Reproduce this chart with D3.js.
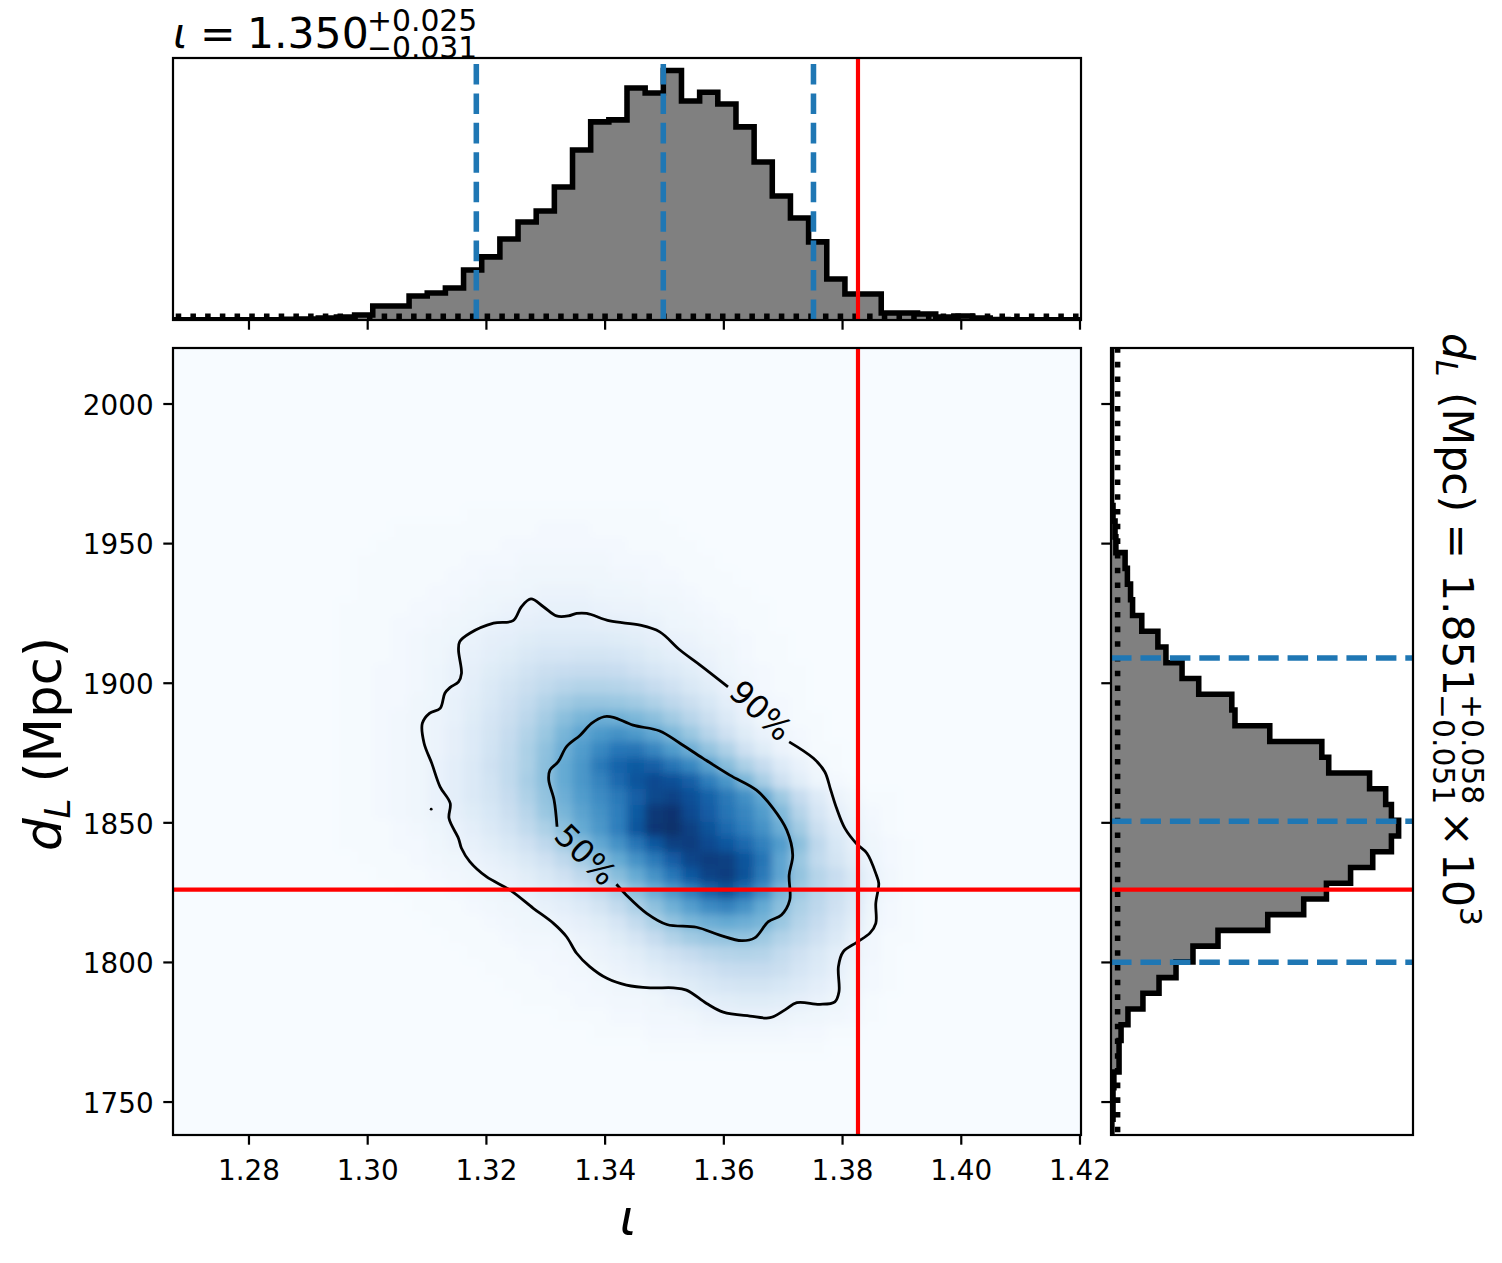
<!DOCTYPE html>
<html>
<head>
<meta charset="utf-8">
<script src="https://cdn.jsdelivr.net/npm/d3@7"></script>
<style>
  body { margin: 0; background: #fff; }
  text { font-family: "DejaVu Sans"; fill: #000; }
</style>
</head>
<body>
<script>
// Axis limits and ticks
const iotaLim = [1.2672, 1.42017];
const distLim = [1738.2, 2020.06];
const iotaTicks = [1.28, 1.30, 1.32, 1.34, 1.36, 1.38, 1.40, 1.42];
const distTicks = [1750, 1800, 1850, 1900, 1950, 2000];

// Marginal histograms, 50 bins, peak = 100
const iotaHist = [.1,.1,.1,.1,.1,.1,.3,.4,.8,1.2,2,5.6,5.6,9.6,10.8,12.8,20,25.3,32.5,39.3,43.7,53.3,68.1,79.4,80.2,93,91,100,87.8,91.3,86.6,77.4,63.3,49.7,40.9,31.3,16.4,10.4,10.4,2.8,2.8,2.4,1.2,1.6,.8,.2,.1,.1,.1,.1];
// listed from the top bin down
const distHist = [.2,.2,.2,.2,.2,.2,.2,.2,.2,.2,.7,1.4,1.7,4.9,5.7,6.8,7.5,10.7,16.3,19.1,24.7,30.5,42,43.1,55.2,73.3,75.7,89.9,95.5,97.5,100,97.5,91,83.3,74.9,67,54.5,37.2,28.5,22.6,16.7,11.1,5.9,3.5,2.8,2.8,1,.7,.7,.3];

// Flat prior levels, dashed quantiles and true values
const iotaPrior = 1.5;
const distPrior = 2.3;
const iotaQuantiles = [1.3183, 1.3498, 1.3751];
const distQuantiles = [1800.1, 1850.6, 1909.0];
const iotaTrue = 1.3826;
const distTrue = 1826.1;

// Density, rows top down from row 10, columns from column 8 (50 x 50 grid)
const heatRowStart = 10;
const heatColStart = 8;
const heatRows = [
  [0,0,0,0,0,0,0,0,1,1,1,1,1,1,1,1,1,1,1],
  [0,0,0,0,1,1,1,1,1,1,1,1,2,2,2,1,1,1,1,1],
  [0,0,0,1,1,1,1,1,1,1,2,2,2,2,2,2,2,1,1,1,1],
  [0,0,1,1,1,1,1,1,2,2,2,3,3,3,3,3,2,2,2,1,1,1],
  [0,0,1,1,1,1,1,2,2,3,3,4,4,4,4,4,3,3,2,2,1,1,1],
  [0,0,1,1,1,1,2,2,3,4,4,5,6,6,6,5,5,4,3,3,2,1,1,1],
  [0,1,1,1,1,2,2,3,4,5,6,7,8,8,8,7,6,6,5,4,3,2,1,1,1],
  [0,1,1,1,2,2,3,4,5,7,8,9,10,10,10,9,9,8,7,5,4,3,2,1,1],
  [0,1,1,1,2,3,4,5,7,9,10,12,13,13,13,13,12,11,9,7,6,4,3,2,1,1],
  [0,1,1,1,2,3,4,6,8,10,12,15,17,17,18,18,17,15,12,10,8,6,4,2,1,1],
  [0,1,1,2,2,3,5,7,9,12,15,19,22,23,24,24,23,20,17,14,11,8,5,3,2,1,1],
  [0,1,1,2,2,3,5,7,10,14,18,22,26,29,31,31,30,28,24,20,15,11,7,4,2,1,1],
  [0,1,1,2,2,4,5,8,11,15,20,25,31,36,39,39,38,36,32,27,22,16,10,6,3,2,1],
  [0,1,1,2,3,4,6,8,12,17,22,28,35,42,47,50,49,46,42,36,29,22,14,8,4,2,1,1],
  [0,1,1,2,3,4,6,9,13,18,24,31,38,47,54,59,62,59,53,46,38,29,20,12,7,4,2,1],
  [0,1,1,2,3,4,6,9,13,19,25,33,41,50,58,66,73,74,67,58,50,40,32,20,12,6,3,1,1],
  [0,1,1,2,3,4,7,10,14,20,26,33,42,52,60,72,80,84,82,74,66,55,43,33,24,13,7,3,1],
  [0,1,1,2,3,4,7,10,14,19,26,34,42,52,60,68,78,86,90,88,82,70,60,47,34,21,11,5,2,1],
  [0,1,1,2,3,4,7,10,14,18,24,32,40,50,58,65,72,82,91,93,88,81,72,63,53,37,24,13,6,3,1,1],
  [0,1,1,2,3,4,6,9,12,16,22,29,38,47,55,62,70,84,97,99,90,83,74,67,58,45,30,17,9,5,2,1],
  [0,1,1,1,2,3,5,7,10,14,19,26,33,42,52,60,70,86,98,100,94,87,78,70,62,50,36,22,13,7,3,1],
  [0,1,1,1,2,2,4,6,8,11,15,20,27,35,44,53,62,74,85,94,95,90,85,78,69,58,42,27,16,9,4,2,1],
  [0,0,1,1,1,2,3,4,6,8,11,15,20,27,35,43,52,62,72,83,92,95,94,86,74,54,38,26,18,11,5,2,1],
  [0,0,0,1,1,1,2,3,4,6,8,11,15,20,27,34,43,52,62,73,85,93,95,87,72,54,40,30,23,15,7,3,1],
  [0,0,0,0,1,1,1,2,3,4,6,8,11,14,19,25,33,42,51,60,70,81,87,77,64,47,37,29,22,15,6,3,1],
  [0,0,0,0,0,1,1,1,2,3,4,5,8,10,13,18,25,33,41,49,57,65,68,62,52,42,33,27,20,13,5,2,1],
  [0,0,0,0,0,0,1,1,1,2,3,4,5,7,9,12,17,25,33,40,46,50,52,50,47,38,30,24,17,11,4,2,1],
  [0,0,0,0,0,0,0,1,1,1,2,3,3,4,6,8,12,17,24,31,36,39,40,40,37,31,26,20,14,8,3,1,1],
  [0,0,0,0,0,0,0,0,1,1,1,2,2,3,4,6,8,11,16,20,24,28,30,31,30,25,20,15,10,6,3,1],
  [0,0,0,0,0,0,0,0,0,1,1,1,2,2,3,4,6,8,11,14,17,20,23,24,24,22,17,13,9,5,2,1],
  [0,0,0,0,0,0,0,0,0,0,1,1,1,2,2,3,4,5,7,10,12,15,17,18,18,16,13,10,7,4,2,1],
  [0,0,0,0,0,0,0,0,0,0,0,1,1,1,2,2,3,3,4,6,8,10,11,12,12,11,9,7,5,3,1],
  [0,0,0,0,0,0,0,0,0,0,0,0,0,1,1,1,2,2,3,3,4,6,7,7,7,6,5,4,3,2,1],
  [0,0,0,0,0,0,0,0,0,0,0,0,0,0,0,1,1,1,2,2,2,3,3,3,3,3,2,2,1,1],
  [0,0,0,0,0,0,0,0,0,0,0,0,0,0,0,0,0,0,1,1,1,1,1,1,1,1,1,1]
];

// Credible contours as [iota, d_L], both open at their labels
const contour90 = [[1.3710,1879.0],[1.3751,1873.1],[1.3770,1868.3],[1.3780,1861.8],[1.3790,1855.2],[1.3804,1848.0],[1.3824,1842.4],[1.3841,1839.1],[1.3857,1831.3],[1.3861,1828.3],[1.3856,1821.2],[1.3856,1814.0],[1.3846,1810.5],[1.3824,1807.2],[1.3801,1803.8],[1.3793,1798.5],[1.3794,1789.5],[1.3787,1785.9],[1.3762,1785.0],[1.3723,1785.6],[1.3703,1783.0],[1.3678,1780.2],[1.3644,1780.8],[1.3599,1782.2],[1.3571,1785.3],[1.3537,1790.1],[1.3515,1790.9],[1.3476,1790.9],[1.3436,1791.9],[1.3403,1794.3],[1.3374,1798.5],[1.3352,1803.3],[1.3335,1809.2],[1.3313,1814.0],[1.3279,1819.4],[1.3240,1825.9],[1.3200,1830.7],[1.3172,1836.1],[1.3158,1840.9],[1.3153,1844.4],[1.3137,1851.6],[1.3139,1857.0],[1.3122,1862.9],[1.3108,1871.3],[1.3095,1878.5],[1.3092,1885.6],[1.3104,1889.2],[1.3122,1891.0],[1.3130,1896.4],[1.3139,1898.5],[1.3153,1900.5],[1.3158,1903.5],[1.3153,1911.9],[1.3155,1914.9],[1.3172,1917.9],[1.3212,1921.5],[1.3245,1922.4],[1.3259,1927.4],[1.3275,1930.2],[1.3296,1927.4],[1.3318,1924.1],[1.3338,1924.1],[1.3352,1925.0],[1.3369,1925.0],[1.3408,1922.3],[1.3459,1920.8],[1.3492,1918.4],[1.3526,1911.9],[1.3560,1906.5],[1.3607,1898.7]];
const contour50 = [[1.3419,1828.0],[1.3436,1824.1],[1.3470,1817.6],[1.3504,1813.6],[1.3554,1812.6],[1.3593,1809.8],[1.3630,1807.8],[1.3652,1808.8],[1.3675,1814.6],[1.3697,1817.0],[1.3711,1822.3],[1.3710,1831.3],[1.3716,1838.5],[1.3706,1847.4],[1.3683,1855.2],[1.3655,1861.7],[1.3610,1867.1],[1.3565,1873.1],[1.3526,1878.5],[1.3492,1882.9],[1.3447,1885.0],[1.3414,1887.8],[1.3398,1888.0],[1.3377,1885.6],[1.3358,1881.4],[1.3335,1877.3],[1.3321,1871.9],[1.3307,1868.9],[1.3305,1865.3],[1.3314,1858.2],[1.3319,1848.6]];
const contourSpeck = [1.3107, 1854.9];
const contourLabels = [
  { text: "90%", x: 1.3662, y: 1890.2, angle: 43 },
  { text: "50%", x: 1.3367, y: 1838.5, angle: 45 }
];

const tickFont = 27.8;
const contourFont = 32;
const labelFont = 51.5;
const titleFont = 42.5;
const scriptFont = 29.8;

// Panels
const main = { left: 173, right: 1081, top: 348, bottom: 1135 };
const top_ = { left: 173, right: 1081, top: 58, bottom: 320 };
const side = { left: 1111, right: 1413, top: 348, bottom: 1135 };

const x = d3.scaleLinear().domain(iotaLim).range([main.left, main.right]);
const y = d3.scaleLinear().domain(distLim).range([main.bottom, main.top]);
const topY = d3.scaleLinear().domain([0, 105]).range([top_.bottom, top_.top]);
const sideX = d3.scaleLinear().domain([0, 105]).range([side.left, side.right]);
const color = d3.scaleSequential(d3.interpolateBlues).domain([0, 100]);

const svg = d3.select("body").append("svg")
    .attr("width", 1502)
    .attr("height", 1263)
    .attr("viewBox", [0, 0, 1502, 1263]);

const defs = svg.append("defs");
function addClip(id, p) {
  defs.append("clipPath").attr("id", id).append("rect")
      .attr("x", p.left).attr("y", p.top)
      .attr("width", p.right - p.left).attr("height", p.bottom - p.top);
}
addClip("clip-main", main);
addClip("clip-top", top_);
addClip("clip-side", side);
// softens the coarse density cells
defs.append("filter").attr("id", "soften")
    .attr("x", "-5%").attr("y", "-5%").attr("width", "110%").attr("height", "110%")
    .append("feGaussianBlur").attr("stdDeviation", 4);

// Math text helper, one piece per glyph run so spacing follows the reference
function piece(g, str, px, py, size, italic) {
  g.append("text")
      .attr("x", px).attr("y", py)
      .attr("font-size", size)
      .attr("font-style", italic ? "italic" : "normal")
      .text(str);
}

// Title goes first, the top panel covers the foot of the subscript
const title = svg.append("g");
piece(title, "ι", 173, 47.5, titleFont, true);
piece(title, "=", 200, 47.5, titleFont);
piece(title, "1.350", 247, 47.5, titleFont);
piece(title, "+0.025", 367, 30.7, scriptFont);
piece(title, "−0.031", 367, 57.7, scriptFont);

function steps(values, edgeAt) {
  return values.flatMap((v, i) => [[edgeAt(i), v], [edgeAt(i + 1), v]]);
}
const iotaStep = (iotaLim[1] - iotaLim[0]) / iotaHist.length;
const distStep = (distLim[1] - distLim[0]) / distHist.length;
const iotaEdge = i => iotaLim[0] + i * iotaStep;
const distEdge = i => distLim[1] - i * distStep;

// Top marginal
const topPanel = svg.append("g");
topPanel.append("rect")
    .attr("x", top_.left).attr("y", top_.top)
    .attr("width", top_.right - top_.left).attr("height", top_.bottom - top_.top)
    .attr("fill", "#fff");
const topMarks = topPanel.append("g").attr("clip-path", "url(#clip-top)");
const iotaPts = steps(iotaHist, iotaEdge);
topMarks.append("path")
    .attr("d", d3.area().x(d => x(d[0])).y0(topY(0)).y1(d => topY(d[1]))(iotaPts))
    .attr("fill", "#808080");
topMarks.append("path")
    .attr("d", d3.line().x(d => x(d[0])).y(d => topY(d[1]))(iotaPts))
    .attr("fill", "none").attr("stroke", "#000").attr("stroke-width", 5.55);
topMarks.append("line")
    .attr("x1", x(iotaLim[0])).attr("x2", x(iotaLim[1]))
    .attr("y1", topY(iotaPrior)).attr("y2", topY(iotaPrior))
    .attr("stroke", "#000").attr("stroke-width", 5.55)
    .attr("stroke-dasharray", "5.55 9.16").attr("stroke-dashoffset", -2.7);
topMarks.selectAll(".quantile")
    .data(iotaQuantiles)
    .enter().append("line")
    .attr("class", "quantile")
    .attr("x1", d => x(d)).attr("x2", d => x(d))
    .attr("y1", top_.bottom).attr("y2", top_.top)
    .attr("stroke", "#1f77b4").attr("stroke-width", 5.55)
    .attr("stroke-dasharray", "20.55 8.88");
topMarks.append("line")
    .attr("x1", x(iotaTrue)).attr("x2", x(iotaTrue))
    .attr("y1", top_.bottom).attr("y2", top_.top)
    .attr("stroke", "#f00").attr("stroke-width", 4.17);

// Main panel
const heat = svg.append("g").attr("clip-path", "url(#clip-main)");
const heatCells = heat.append("g").attr("filter", "url(#soften)");
heatCells.append("rect")
    .attr("x", main.left - 30).attr("y", main.top - 30)
    .attr("width", main.right - main.left + 60).attr("height", main.bottom - main.top + 60)
    .attr("fill", color(0));
heatRows.forEach((row, r) => {
  heatCells.append("g").selectAll("rect")
      .data(row)
      .enter().append("rect")
      .attr("x", (d, c) => x(iotaEdge(c + heatColStart)))
      .attr("y", y(distEdge(r + heatRowStart)))
      .attr("width", x(iotaEdge(1)) - x(iotaEdge(0)) + 0.5)
      .attr("height", y(distEdge(1)) - y(distEdge(0)) + 0.5)
      .attr("fill", d => color(d));
});

const contourLine = d3.line().x(d => x(d[0])).y(d => y(d[1])).curve(d3.curveCatmullRom);
heat.selectAll(".contour")
    .data([contour90, contour50])
    .enter().append("path")
    .attr("class", "contour")
    .attr("d", contourLine)
    .attr("fill", "none").attr("stroke", "#000").attr("stroke-width", 2.78);
heat.append("circle")
    .attr("cx", x(contourSpeck[0])).attr("cy", y(contourSpeck[1])).attr("r", 1.4)
    .attr("fill", "#000");
heat.selectAll(".contour-label")
    .data(contourLabels)
    .enter().append("text")
    .attr("class", "contour-label")
    .attr("transform", d => `translate(${x(d.x)},${y(d.y)}) rotate(${d.angle})`)
    .attr("text-anchor", "middle")
    .attr("dominant-baseline", "central")
    .attr("font-size", contourFont)
    .text(d => d.text);
heat.append("line")
    .attr("x1", x(iotaTrue)).attr("x2", x(iotaTrue))
    .attr("y1", main.top).attr("y2", main.bottom)
    .attr("stroke", "#f00").attr("stroke-width", 4.17);
heat.append("line")
    .attr("x1", main.left).attr("x2", main.right)
    .attr("y1", y(distTrue)).attr("y2", y(distTrue))
    .attr("stroke", "#f00").attr("stroke-width", 4.17);

// Side marginal
const sideMarks = svg.append("g").attr("clip-path", "url(#clip-side)");
const distPts = steps(distHist, distEdge);
sideMarks.append("path")
    .attr("d", d3.area().y(d => y(d[0])).x0(sideX(0)).x1(d => sideX(d[1]))(distPts))
    .attr("fill", "#808080");
sideMarks.append("path")
    .attr("d", d3.line().x(d => sideX(d[1])).y(d => y(d[0]))(distPts))
    .attr("fill", "none").attr("stroke", "#000").attr("stroke-width", 5.55);
sideMarks.append("line")
    .attr("x1", sideX(distPrior)).attr("x2", sideX(distPrior))
    .attr("y1", y(distLim[0])).attr("y2", y(distLim[1]))
    .attr("stroke", "#000").attr("stroke-width", 5.55)
    .attr("stroke-dasharray", "5.55 9.16").attr("stroke-dashoffset", -2.7);
sideMarks.selectAll(".quantile")
    .data(distQuantiles)
    .enter().append("line")
    .attr("class", "quantile")
    .attr("x1", side.left).attr("x2", side.right)
    .attr("y1", d => y(d)).attr("y2", d => y(d))
    .attr("stroke", "#1f77b4").attr("stroke-width", 5.55)
    .attr("stroke-dasharray", "20.55 8.88");
sideMarks.append("line")
    .attr("x1", side.left).attr("x2", side.right)
    .attr("y1", y(distTrue)).attr("y2", y(distTrue))
    .attr("stroke", "#f00").attr("stroke-width", 4.17);

// Frames
[main, top_, side].forEach(p => {
  svg.append("rect")
      .attr("x", p.left).attr("y", p.top)
      .attr("width", p.right - p.left).attr("height", p.bottom - p.top)
      .attr("fill", "none").attr("stroke", "#000").attr("stroke-width", 2.2);
});

// Axes
function styleAxis(g) {
  g.select(".domain").remove();
  g.selectAll(".tick line").attr("stroke", "#000").attr("stroke-width", 2.2);
  g.selectAll(".tick text").attr("font-size", tickFont).attr("font-family", "DejaVu Sans").attr("fill", "#000");
}
svg.append("g")
    .attr("transform", `translate(0,${main.bottom})`)
    .call(d3.axisBottom(x).tickValues(iotaTicks).tickSize(9.7).tickPadding(16).offset(0)
        .tickFormat(d3.format(".2f")))
    .call(styleAxis);
svg.append("g")
    .attr("transform", `translate(0,${top_.bottom})`)
    .call(d3.axisBottom(x).tickValues(iotaTicks).tickSize(9.7).offset(0).tickFormat(""))
    .call(styleAxis);
svg.append("g")
    .attr("transform", `translate(${main.left},0)`)
    .call(d3.axisLeft(y).tickValues(distTicks).tickSize(9.7).tickPadding(9.7).offset(0)
        .tickFormat(d3.format("d")))
    .call(styleAxis)
    .call(g => g.selectAll(".tick text").attr("dy", "0.39em"));
svg.append("g")
    .attr("transform", `translate(${side.left},0)`)
    .call(d3.axisLeft(y).tickValues(distTicks).tickSize(9.7).offset(0).tickFormat(""))
    .call(styleAxis);

// Axis labels
svg.append("text")
    .attr("x", 628).attr("y", 1235)
    .attr("text-anchor", "middle")
    .attr("font-size", 50).attr("font-style", "italic")
    .text("ι");

const leftLabel = svg.append("g").attr("transform", "translate(61,851) rotate(-90)");
piece(leftLabel, "d", 0, 0, labelFont, true);
piece(leftLabel, "L", 32.5, 9, 36, true);
piece(leftLabel, "(Mpc)", 68.5, 0, labelFont);

const rightLabel = svg.append("g").attr("transform", "translate(1443,333) rotate(90)");
piece(rightLabel, "d", 0, 0, titleFont, true);
piece(rightLabel, "L", 27, 7.5, scriptFont, true);
piece(rightLabel, "(Mpc)", 59, 0, titleFont);
piece(rightLabel, "=", 190.5, 0, titleFont);
piece(rightLabel, "1.851", 241, 0, titleFont);
piece(rightLabel, "+0.058", 361, -19, scriptFont);
piece(rightLabel, "−0.051", 361, 10, scriptFont);
piece(rightLabel, "×", 478, 0, titleFont);
piece(rightLabel, "10", 520, 0, titleFont);
piece(rightLabel, "3", 574, -17, scriptFont);
</script>
</body>
</html>
